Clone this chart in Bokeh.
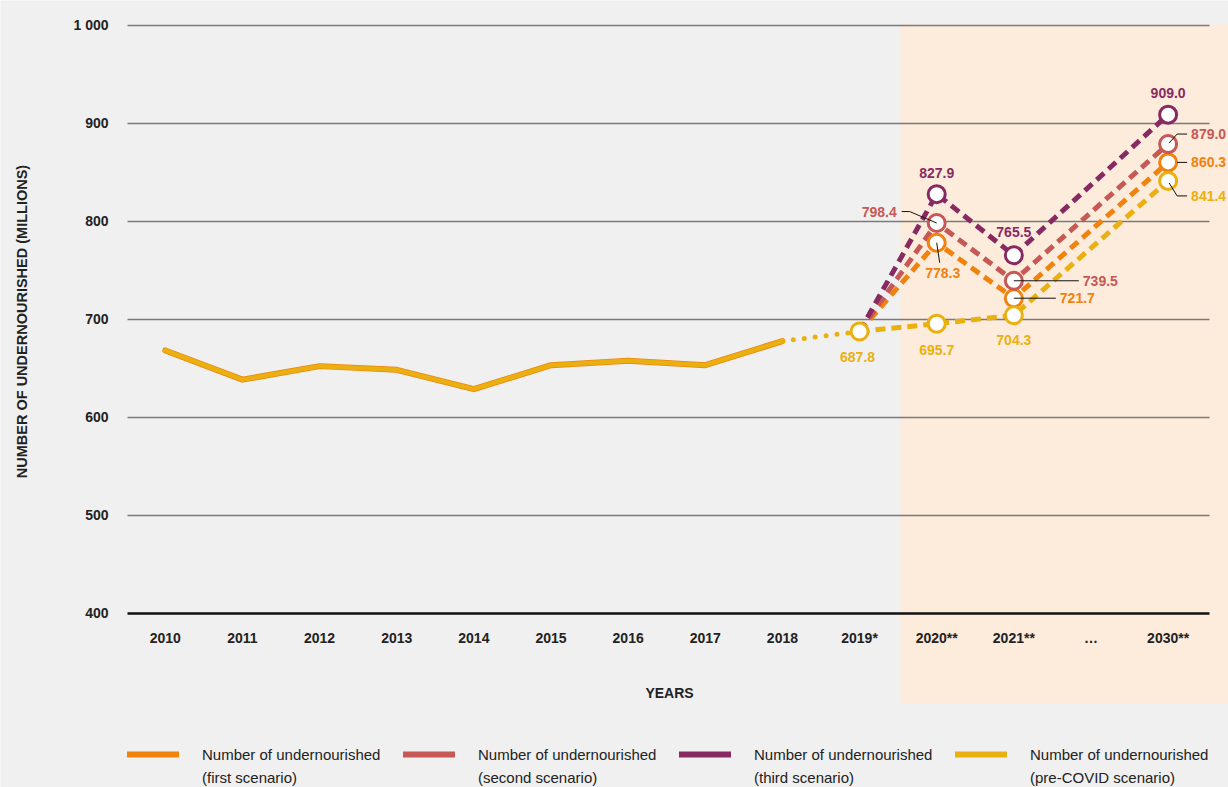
import math
from bokeh.plotting import figure
from bokeh.models import ColumnDataSource, Legend, LegendItem, Range1d
from bokeh.core.properties import value
from bokeh.embed import file_html
from bokeh.resources import INLINE

# ---------------- data ----------------
categories = ["2010", "2011", "2012", "2013", "2014", "2015", "2016", "2017", "2018",
              "2019*", "2020**", "2021**", "…", "2030**"]
hist_years = ["2010", "2011", "2012", "2013", "2014", "2015", "2016", "2017", "2018"]
hist_values = [668.4, 638.6, 652.4, 648.6, 628.9, 653.4, 657.8, 653.4, 677.9]
year_2019 = "2019*"
value_2019 = 687.8
scen_years = ["2019*", "2020**", "2021**", "2030**"]
first_scenario = [687.8, 778.3, 721.7, 860.3]
second_scenario = [687.8, 798.4, 739.5, 879.0]
third_scenario = [687.8, 827.9, 765.5, 909.0]
precovid_scenario = [687.8, 695.7, 704.3, 841.4]
y_ticks = [400, 500, 600, 700, 800, 900, 1000]
y_tick_labels = ["400", "500", "600", "700", "800", "900", "1 000"]
x_title = "YEARS"
y_title = "NUMBER OF UNDERNOURISHED (MILLIONS)"
legend_line1 = ["Number of undernourished"] * 4
legend_line2 = ["(first scenario)", "(second scenario)", "(third scenario)", "(pre-COVID scenario)"]

# ---------------- styles / layout ----------------
ORANGE = "#F0820E"
RED = "#C65855"
PURPLE = "#872A62"
YELLOW = "#EAB010"
BG = "#F0F0F0"
SHADE = "#FDEBDC"
FONT_NAME = "Liberation Sans"
FONT = value(FONT_NAME)
TXT = "#222222"

W, H = 1228, 787
PLOT_LEFT, PLOT_TOP = 127, 24          # px of the plotting area (x=-0.49, y=1001)
PXX, PXY = 77.14, 0.98                 # px per category step / per million
XA, YA = -0.49, 1001.0


def xd(px):  # canvas px -> data x
    return XA + (px - PLOT_LEFT) / PXX


def yd(py):  # canvas px -> data y
    return YA - (py - PLOT_TOP) / PXY


idx = {c: i for i, c in enumerate(categories)}
hx = [idx[c] for c in hist_years]
sx = [idx[c] for c in scen_years]

p = figure(frame_width=W, frame_height=H, x_range=Range1d(xd(0), xd(W)), y_range=Range1d(yd(H), yd(0)),
           output_backend="svg", toolbar_location=None,
           min_border_left=0, min_border_right=0, min_border_top=0, min_border_bottom=0,
           background_fill_color=BG, border_fill_color=BG, outline_line_color=None)
p.xaxis.visible = False
p.yaxis.visible = False
p.grid.visible = False

GRID_L, GRID_R = xd(127), xd(1209)

# shaded projection area
p.quad(left=[xd(900)], right=[xd(W)], bottom=[yd(703)], top=[yd(24)], fill_color=SHADE, line_color=None)

# gridlines + base line
gl = [t for t in y_ticks if t != y_ticks[0]]
p.segment(x0=[GRID_L] * len(gl), x1=[GRID_R] * len(gl), y0=gl, y1=gl, line_color="#7A7A7A", line_width=1.5)
p.segment(x0=[GRID_L], x1=[GRID_R], y0=[y_ticks[0]], y1=[y_ticks[0]], line_color="#111111", line_width=2.5)

# y tick labels
p.text(x=[xd(108)] * len(y_ticks), y=y_ticks, text=y_tick_labels, text_align="right", text_baseline="middle",
       text_font=FONT, text_font_size="14px", text_font_style="bold", text_color=TXT)
# y title
p.text(x=[xd(21)], y=[yd(321)], text=[y_title], angle=math.pi / 2, text_align="center",
       text_baseline="middle", text_font=FONT, text_font_size="14.5px", text_font_style="bold", text_color=TXT)

# historical line
p.line(hx, hist_values, line_color=ORANGE, line_width=6, line_join="round", line_cap="round")
p.line(hx, hist_values, line_color=YELLOW, line_width=4.5, line_join="round", line_cap="round")
# dotted 2018 -> 2019
p.line([hx[-1], idx[year_2019]], [hist_values[-1], value_2019], line_color=YELLOW, line_width=5,
       line_dash="0 11", line_cap="round")

# scenario dashed lines
scen = [(first_scenario, ORANGE), (second_scenario, RED), (third_scenario, PURPLE), (precovid_scenario, YELLOW)]
for vals, col in scen:
    p.line(sx, vals, line_color=col, line_width=5, line_dash="10 6", line_join="round")

# markers
for vals, col in scen:
    p.scatter(sx[1:], vals[1:], size=17, fill_color="white", line_color=col, line_width=3)
p.scatter([sx[0]], [precovid_scenario[0]], size=17, fill_color="white", line_color=YELLOW, line_width=3)

# value labels: (series values, index, colour, dx px, dy px, align)
label_spec = [
    (third_scenario, 3, PURPLE, 0, -22, "center"),
    (third_scenario, 1, PURPLE, 0, -21, "center"),
    (third_scenario, 2, PURPLE, 0, -23, "center"),
    (second_scenario, 1, RED, -40, -11.5, "right"),
    (first_scenario, 1, ORANGE, 6, 30, "center"),
    (second_scenario, 2, RED, 69, 0, "left"),
    (first_scenario, 2, ORANGE, 46, 0, "left"),
    (precovid_scenario, 2, YELLOW, 0, 25, "center"),
    (precovid_scenario, 1, YELLOW, 0, 26, "center"),
    (precovid_scenario, 0, YELLOW, -2, 26, "center"),
    (second_scenario, 3, RED, 23, -10, "left"),
    (first_scenario, 3, ORANGE, 23, 0, "left"),
    (precovid_scenario, 3, YELLOW, 23, 15, "left"),
]
lab = dict(x=[], y=[], t=[], c=[], dx=[], dy=[], a=[])
for vals, i, col, dx, dy, a in label_spec:
    lab["x"].append(sx[i]); lab["y"].append(vals[i]); lab["t"].append(f"{vals[i]:.1f}")
    lab["c"].append(col); lab["dx"].append(dx); lab["dy"].append(dy); lab["a"].append(a)
p.text(x="x", y="y", text="t", source=ColumnDataSource(lab), text_color="c", x_offset="dx", y_offset="dy",
       text_align="a", text_baseline="middle", text_font=FONT, text_font_size="14px", text_font_style="bold")

# leader lines (pixel offsets from the marker centre)
leaders = [
    (second_scenario, 1, [(-35, -11.5), (-27, -11.5), (0, 0)]),
    (first_scenario, 1, [(0, 0), (3, 20)]),
    (second_scenario, 2, [(0, 0), (65, 0)]),
    (first_scenario, 2, [(0, 0), (42, 0)]),
    (second_scenario, 3, [(1, -1), (9, -10), (19, -10)]),
    (first_scenario, 3, [(9, 0), (19, 0)]),
    (precovid_scenario, 3, [(1, 2), (9, 15), (19, 15)]),
]
lxs, lys = [], []
for vals, i, pts in leaders:
    lxs.append([sx[i] + dx / PXX for dx, dy in pts])
    lys.append([vals[i] - dy / PXY for dx, dy in pts])
p.multi_line(lxs, lys, line_color="#111111", line_width=1)

# x category labels and title
p.text(x=list(range(len(categories))), y=[yd(637)] * len(categories), text=categories,
       text_align="center", text_baseline="middle", text_font=FONT, text_font_size="14px",
       text_font_style="bold", text_color=TXT)
p.text(x=[xd(669)], y=[yd(692)], text=[x_title], text_align="center", text_baseline="middle",
       text_font=FONT, text_font_size="14px", text_font_style="bold", text_color=TXT)

# legend: first text line with the colour swatch, second line underneath (aligned via fixed label width)
items1, items2 = [], []
for (vals, col), t1, t2 in zip(scen, legend_line1, legend_line2):
    r1 = p.line([sx[0]], [vals[0]], line_color=col, line_width=6, line_cap="round")
    r2 = p.line([sx[0]], [vals[0]], line_color=col, line_width=6, line_alpha=0)
    items1.append(LegendItem(label=t1, renderers=[r1]))
    items2.append(LegendItem(label=t2, renderers=[r2]))
common = dict(orientation="horizontal", glyph_width=52, glyph_height=20, label_height=20, label_width=185,
              label_standoff=23, spacing=16, padding=0, margin=0, border_line_color=None,
              background_fill_alpha=0, label_text_font=FONT_NAME, label_text_font_size="15px",
              label_text_color=TXT)
p.add_layout(Legend(items=items1, location=(127, 23), **common))
p.add_layout(Legend(items=items2, location=(127, 0), **common))

open("out.html", "w").write(file_html(p, INLINE))
